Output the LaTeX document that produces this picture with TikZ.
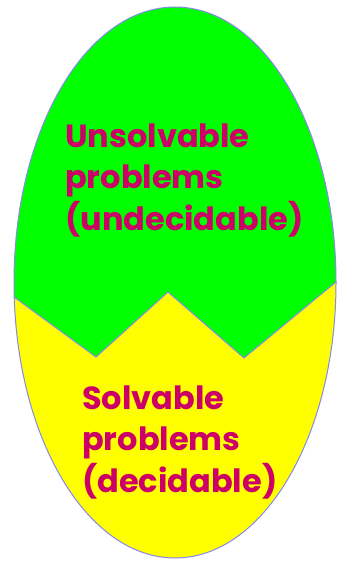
\documentclass[tikz,border=0pt]{standalone}
\usepackage{fontspec}
\setmainfont{Poppins}
\definecolor{eggtxt}{HTML}{CC0066}
\definecolor{egggreen}{HTML}{00FF00}
\definecolor{eggyellow}{HTML}{FFFF00}
\definecolor{eggline}{HTML}{8888EE}
\begin{document}
\begin{tikzpicture}[x=1pt,y=-1pt,
  label text/.style={text=eggtxt, font=\bfseries\fontsize{32}{41.5}\selectfont, align=left, anchor=base west, inner sep=0pt}]
\useasboundingbox (0,0) rectangle (338,561);
\fill[egggreen] (175,282.5) ellipse [x radius=161, y radius=275.5];
\begin{scope}
  \clip (175,282.5) ellipse [x radius=161, y radius=275.5];
  \fill[eggyellow] (0,286.8) -- (96,357) -- (168,292) -- (244,358) -- (338,280.3) -- (338,561) -- (0,561) -- cycle;
  \draw[eggline, line width=1pt] (0,286.8) -- (96,357) -- (168,292) -- (244,358) -- (338,280.3);
\end{scope}
\draw[eggline, line width=1pt] (175,282.5) ellipse [x radius=161, y radius=275.5];
\node[label text] (unsolv) at (65,230) {Unsolvable\\problems\\(undecidable)};
\node[label text] (solv) at (82,492) {Solvable\\problems\\(decidable)};
\end{tikzpicture}
\end{document}
